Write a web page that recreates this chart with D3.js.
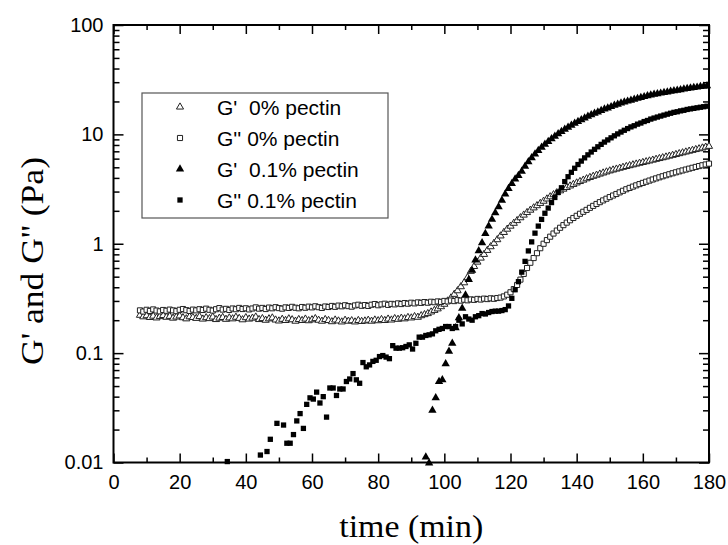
<!DOCTYPE html>
<html>
<head>
<meta charset="utf-8">
<script src="https://cdn.jsdelivr.net/npm/d3@7"></script>
<style>
    body { margin: 0; background: #fff; }
    .tick text { font-family: "Liberation Sans", Arial, sans-serif; font-size: 20px; fill: #000; }
</style>
</head>
<body>
<div id="chart"></div>
<script>
// Rheology run, one sample per minute. Each series keeps its first sample time.
const stepMin = 1;

// G' 0% pectin (open triangles), from t = 8 min
const gPrime0Start = 8;
const gPrime0 = [
    0.222, 0.215, 0.220, 0.212, 0.218, 0.210, 0.216, 0.221, 0.213, 0.217,
    0.209, 0.214, 0.219, 0.211, 0.206, 0.215, 0.212, 0.208, 0.216, 0.205,
    0.211, 0.207, 0.214, 0.203, 0.209, 0.212, 0.204, 0.210, 0.206, 0.213,
    0.208, 0.202, 0.211, 0.205, 0.209, 0.214, 0.203, 0.207, 0.200, 0.206,
    0.210, 0.201, 0.197, 0.204, 0.199, 0.206, 0.202, 0.196, 0.203, 0.199,
    0.205, 0.198, 0.202, 0.207, 0.200, 0.196, 0.203, 0.199, 0.194, 0.201,
    0.197, 0.193, 0.200, 0.196, 0.198, 0.193, 0.199, 0.195, 0.197, 0.200,
    0.196, 0.201, 0.198, 0.203, 0.199, 0.205, 0.201, 0.207, 0.204, 0.209,
    0.206, 0.212, 0.210, 0.216, 0.213, 0.220, 0.225, 0.230, 0.238, 0.246,
    0.254, 0.266, 0.280, 0.300, 0.320, 0.345, 0.372, 0.405, 0.44, 0.49,
    0.56, 0.62, 0.68, 0.74, 0.80, 0.87, 0.94, 1.01, 1.09, 1.18,
    1.27, 1.36, 1.45, 1.54, 1.63, 1.73, 1.83, 1.93, 2.03, 2.13,
    2.23, 2.34, 2.45, 2.57, 2.69, 2.81, 2.93, 3.05, 3.16, 3.27,
    3.38, 3.49, 3.60, 3.71, 3.82, 3.93, 4.04, 4.14, 4.24, 4.34,
    4.44, 4.54, 4.64, 4.73, 4.82, 4.91, 5.00, 5.09, 5.18, 5.27,
    5.36, 5.45, 5.54, 5.63, 5.72, 5.82, 5.92, 6.02, 6.12, 6.22,
    6.33, 6.44, 6.55, 6.67, 6.79, 6.91, 7.03, 7.15, 7.27, 7.39,
    7.52, 7.65, 7.78
];

// G'' 0% pectin (open squares), from t = 8 min
const gDouble0Start = 8;
const gDouble0 = [
    0.246, 0.240, 0.249, 0.243, 0.251, 0.245, 0.241, 0.248, 0.244, 0.250,
    0.246, 0.242, 0.249, 0.253, 0.247, 0.243, 0.250, 0.246, 0.252, 0.248,
    0.255, 0.249, 0.245, 0.252, 0.258, 0.250, 0.254, 0.248, 0.256, 0.252,
    0.259, 0.253, 0.257, 0.251, 0.256, 0.262, 0.255, 0.259, 0.253, 0.261,
    0.257, 0.263, 0.258, 0.255, 0.262, 0.259, 0.265, 0.260, 0.257, 0.264,
    0.260, 0.266, 0.262, 0.268, 0.263, 0.259, 0.267, 0.264, 0.270, 0.265,
    0.272, 0.268, 0.274, 0.269, 0.266, 0.273, 0.277, 0.271, 0.275, 0.270,
    0.277, 0.281, 0.274, 0.279, 0.283, 0.276, 0.282, 0.279, 0.285, 0.281,
    0.287, 0.283, 0.289, 0.285, 0.291, 0.288, 0.293, 0.289, 0.295, 0.292,
    0.297, 0.294, 0.300, 0.297, 0.303, 0.299, 0.305, 0.302, 0.308, 0.304,
    0.310, 0.307, 0.313, 0.309, 0.315, 0.312, 0.317, 0.314, 0.319, 0.322,
    0.330, 0.342, 0.36, 0.385, 0.42, 0.47, 0.53, 0.60, 0.67, 0.74,
    0.82, 0.91, 1.00, 1.08, 1.16, 1.24, 1.32, 1.40, 1.48, 1.56,
    1.64, 1.72, 1.80, 1.88, 1.96, 2.04, 2.13, 2.22, 2.31, 2.40,
    2.49, 2.58, 2.67, 2.76, 2.85, 2.95, 3.05, 3.15, 3.24, 3.33,
    3.42, 3.51, 3.60, 3.69, 3.78, 3.87, 3.96, 4.05, 4.14, 4.23,
    4.32, 4.41, 4.50, 4.59, 4.68, 4.77, 4.86, 4.95, 5.04, 5.13,
    5.22, 5.31, 5.40
];

// G' 0.1% pectin (filled triangles), from t = 94.4 min
const gPrime01Start = 94.4;
const gPrime01 = [
    0.0112, 0.0099, 0.030, 0.039, 0.055, 0.057, 0.080, 0.104, 0.123, 0.17,
    0.21, 0.257, 0.34, 0.47, 0.57, 0.71, 0.86, 1.02, 1.24, 1.45,
    1.67, 1.92, 2.18, 2.5, 2.85, 3.2, 3.55, 3.9, 4.2, 4.6,
    5.1, 5.6, 6.1, 6.6, 7.1, 7.6, 8.1, 8.6, 9.1, 9.6,
    10.1, 10.6, 11.1, 11.6, 12.1, 12.6, 13.1, 13.6, 14.1, 14.6,
    15.1, 15.6, 16.0, 16.5, 17.0, 17.4, 17.9, 18.4, 18.8, 19.3,
    19.7, 20.1, 20.5, 20.9, 21.3, 21.7, 22.1, 22.5, 22.9, 23.2,
    23.5, 23.8, 24.1, 24.4, 24.7, 25.0, 25.3, 25.6, 25.9, 26.2,
    26.5, 26.8, 27.0, 27.3, 27.5, 27.8
];

// G'' 0.1% pectin (filled squares), from t = 34.4 min; null = below 0.01 Pa
const gDouble01Start = 34.4;
const gDouble01 = [
    0.0102, null, null, null, null, null, null, null, null, null,
    0.0117, null, 0.0126, 0.0163, null, 0.0228, null, 0.022, 0.015, 0.015,
    0.018, 0.024, 0.028, 0.0205, 0.034, 0.039, 0.038, 0.044, 0.035, 0.040,
    0.026, 0.048, 0.048, 0.041, 0.047, 0.047, 0.055, 0.058, 0.065, 0.057,
    0.053, 0.082, 0.075, 0.078, 0.084, 0.086, 0.093, 0.095, 0.092, 0.089,
    0.117, 0.111, 0.111, 0.112, 0.115, 0.119, 0.109, 0.123, 0.140, 0.140,
    0.145, 0.147, 0.150, 0.160, 0.165, 0.168, 0.175, 0.175, 0.168, 0.175,
    0.200, 0.185, 0.215, 0.205, 0.200, 0.215, 0.220, 0.230, 0.228, 0.235,
    0.240, 0.242, 0.242, 0.245, 0.250, 0.270, 0.317, 0.38, 0.45, 0.55,
    0.69, 0.86, 1.04, 1.25, 1.45, 1.67, 1.9, 2.12, 2.38, 2.65,
    2.95, 3.25, 3.7, 4.1, 4.5, 4.9, 5.3, 5.7, 6.1, 6.5,
    6.9, 7.3, 7.7, 8.1, 8.5, 8.9, 9.3, 9.7, 10.1, 10.5,
    10.9, 11.3, 11.7, 12.0, 12.4, 12.7, 13.1, 13.4, 13.8, 14.1,
    14.4, 14.7, 15.0, 15.3, 15.6, 15.9, 16.1, 16.4, 16.6, 16.9,
    17.1, 17.3, 17.5, 17.7, 17.9, 18.1
];

const legendLabels = ["G'  0% pectin", "G'' 0% pectin", "G'  0.1% pectin", "G'' 0.1% pectin"];
const xTicks = [0, 20, 40, 60, 80, 100, 120, 140, 160, 180];
const yTicks = [0.01, 0.1, 1, 10, 100];
const yTickLabels = ["0.01", "0.1", "1", "10", "100"];

function createRheologyChart() {
    const margin = { top: 25, right: 19, bottom: 82.5, left: 113.5 };
    const width = 728 - margin.left - margin.right;
    const height = 545 - margin.top - margin.bottom;

    const svg = d3.select('#chart').append('svg')
        .attr('width', 728)
        .attr('height', 545)
        .append('g')
        .attr('transform', `translate(${margin.left},${margin.top})`);

    // Scales
    const x = d3.scaleLinear().domain([0, 180]).range([0, width]);
    const y = d3.scaleLog().domain([0.01, 100]).range([height, 0]);

    const xMinor = d3.range(10, 180, 20);
    const yMinor = [];
    yTicks.slice(0, -1).forEach(d => {
        for (let k = 2; k <= 9; k++) yMinor.push(d * k);
    });

    const tidy = g => {
        g.select('.domain').remove();
        g.selectAll('line').attr('stroke', '#000').attr('stroke-width', 1.5);
    };

    // Bottom and left axes, ticks inward
    svg.append('g')
        .attr('transform', `translate(0,${height})`)
        .call(d3.axisBottom(x).tickValues(xTicks).tickSizeInner(-9).tickSizeOuter(0).tickPadding(12))
        .call(tidy);
    svg.append('g')
        .attr('transform', `translate(0,${height})`)
        .call(d3.axisBottom(x).tickValues(xMinor).tickSize(-5).tickFormat(''))
        .call(tidy);
    svg.append('g')
        .call(d3.axisLeft(y).tickValues(yTicks).tickSizeInner(-10).tickSizeOuter(0).tickPadding(10)
            .tickFormat((d, i) => yTickLabels[i]))
        .call(tidy);
    svg.append('g')
        .call(d3.axisLeft(y).tickValues(yMinor).tickSize(-6).tickFormat(''))
        .call(tidy);

    // Mirrored top and right ticks
    svg.append('g')
        .call(d3.axisTop(x).tickValues(xTicks).tickSize(-9).tickFormat(''))
        .call(tidy);
    svg.append('g')
        .call(d3.axisTop(x).tickValues(xMinor).tickSize(-5).tickFormat(''))
        .call(tidy);
    svg.append('g')
        .attr('transform', `translate(${width},0)`)
        .call(d3.axisRight(y).tickValues(yTicks).tickSize(-10).tickFormat(''))
        .call(tidy);
    svg.append('g')
        .attr('transform', `translate(${width},0)`)
        .call(d3.axisRight(y).tickValues(yMinor).tickSize(-6).tickFormat(''))
        .call(tidy);

    // Frame
    svg.append('rect')
        .attr('width', width)
        .attr('height', height)
        .attr('fill', 'none')
        .attr('stroke', '#000')
        .attr('stroke-width', 2);

    // Series
    const series = [
        { start: gPrime0Start, values: gPrime0, type: d3.symbolTriangle, size: 22, filled: false },
        { start: gDouble0Start, values: gDouble0, type: d3.symbolSquare, size: 26, filled: false },
        { start: gPrime01Start, values: gPrime01, type: d3.symbolTriangle, size: 30, filled: true },
        { start: gDouble01Start, values: gDouble01, type: d3.symbolSquare, size: 28, filled: true }
    ];

    series.forEach(s => {
        const pts = s.values
            .map((v, i) => ({ t: s.start + i * stepMin, v: v }))
            .filter(d => d.v !== null);
        svg.append('g').selectAll('path')
            .data(pts)
            .enter()
            .append('path')
            .attr('transform', d => `translate(${x(d.t)},${y(d.v)})`)
            .attr('d', d3.symbol().type(s.type).size(s.size))
            .attr('fill', s.filled ? '#000' : '#fff')
            .attr('stroke', s.filled ? 'none' : '#222')
            .attr('stroke-width', 1);
    });

    // Legend
    const legend = svg.append('g').attr('transform', 'translate(28.5,68)');
    legend.append('rect')
        .attr('width', 246)
        .attr('height', 125)
        .attr('fill', '#fff')
        .attr('stroke', '#555')
        .attr('stroke-width', 1.2);

    const rows = legend.selectAll('.row')
        .data(series)
        .enter()
        .append('g')
        .attr('transform', (d, i) => `translate(38,${14 + i * 31})`);
    rows.append('path')
        .attr('d', d => d3.symbol().type(d.type).size(d.size)())
        .attr('fill', d => d.filled ? '#000' : '#fff')
        .attr('stroke', d => d.filled ? 'none' : '#222');
    rows.append('text')
        .attr('x', 37)
        .attr('y', 7.5)
        .style('white-space', 'pre')
        .attr('font-family', '"Liberation Sans", Arial, sans-serif')
        .attr('font-size', '21px')
        .text((d, i) => legendLabels[i]);

    // Axis titles
    svg.append('text')
        .attr('x', width / 2)
        .attr('y', height + 74)
        .attr('text-anchor', 'middle')
        .attr('font-family', '"Liberation Serif", "Times New Roman", serif')
        .attr('font-size', '31px')
        .attr('textLength', 144)
        .attr('lengthAdjust', 'spacingAndGlyphs')
        .text('time (min)');

    svg.append('text')
        .attr('transform', `translate(${43 - margin.left},${261 - margin.top}) rotate(-90)`)
        .attr('text-anchor', 'middle')
        .attr('font-family', '"Liberation Serif", "Times New Roman", serif')
        .attr('font-size', '31px')
        .attr('textLength', 208)
        .attr('lengthAdjust', 'spacingAndGlyphs')
        .text("G' and G'' (Pa)");
}

createRheologyChart();
</script>
</body>
</html>
